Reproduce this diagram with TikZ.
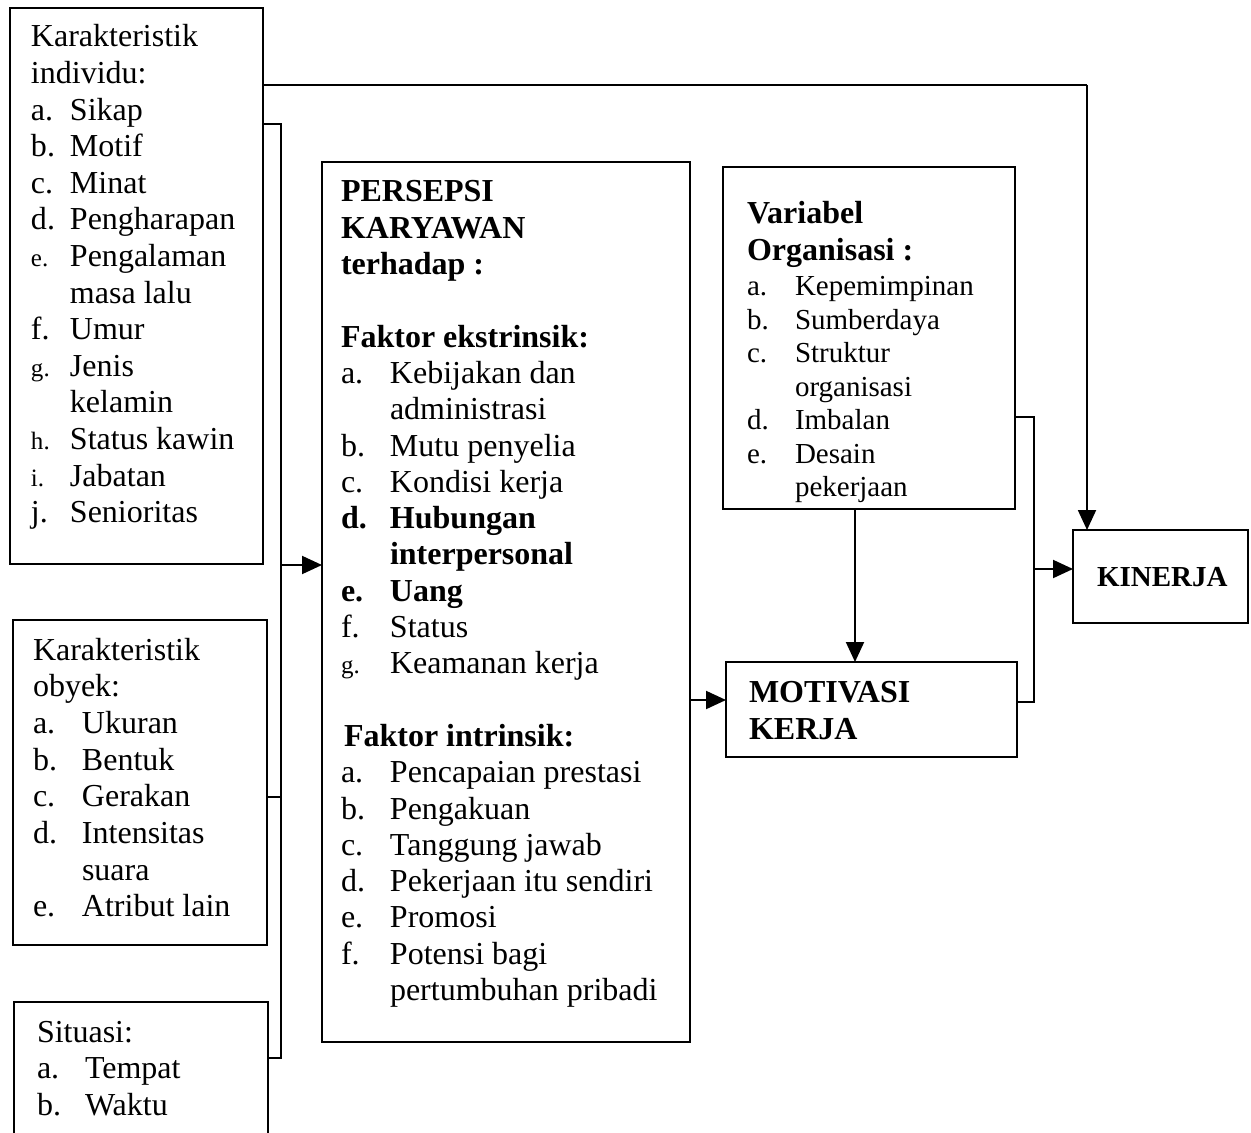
\documentclass[tikz,border=0pt]{standalone}
\usepackage{fontspec}
\setmainfont{Liberation Serif}
\usetikzlibrary{arrows.meta}
\newcommand{\hd}[1]{\multicolumn{2}{@{}l@{}}{#1}}
\newcommand{\sm}[1]{{\fontsize{12.5}{12.5}\selectfont #1}}
\begin{document}
\begin{tikzpicture}[x=0.5pt,y=-0.5pt,
  box/.style={draw, line width=1pt, rectangle, inner sep=0pt, outer sep=0pt, anchor=north west},
  txt/.style={anchor=base west, inner sep=0pt, outer sep=0pt},
  conn/.style={line width=1pt},
  arr/.style={line width=1pt, -{Triangle[length=10pt,width=9pt]}}]
\useasboundingbox (0,0) rectangle (1251,1133);
\clip (0,0) rectangle (1251,1133);
\fill[white] (0,0) rectangle (1251,1133);

% boxes
\node[box, minimum width=126.5pt, minimum height=278pt] (ind) at (10,8) {};
\node[box, minimum width=127pt, minimum height=162.5pt] (obj) at (13,620) {};
\node[box, minimum width=127pt, minimum height=79pt] (sit) at (14,1002) {};
\node[box, minimum width=184pt, minimum height=440pt] (per) at (322,162) {};
\node[box, minimum width=146pt, minimum height=171pt] (var) at (723,167) {};
\node[box, minimum width=145.5pt, minimum height=47.5pt] (mot) at (726,662) {};
\node[box, minimum width=87.5pt, minimum height=46.5pt] (kin) at (1073,530) {};

% texts
\node[txt] (indt) at (31,47) {\fontsize{16}{18.3}\selectfont
\begin{tabular}[t]{@{}p{19.5pt}@{}l@{}}
\hd{Karakteristik}\\
\hd{individu:}\\
a. & Sikap\\
b. & Motif\\
c. & Minat\\
d. & Pengharapan\\
\sm{e.} & Pengalaman\\
 & masa lalu\\
f. & Umur\\
\sm{g.} & Jenis\\
 & kelamin\\
\sm{h.} & Status kawin\\
\sm{i.} & Jabatan\\
j. & Senioritas
\end{tabular}};

\node[txt] (objt) at (33,660) {\fontsize{16}{18.35}\selectfont
\begin{tabular}[t]{@{}p{24.5pt}@{}l@{}}
\hd{Karakteristik}\\
\hd{obyek:}\\
a. & Ukuran\\
b. & Bentuk\\
c. & Gerakan\\
d. & Intensitas\\
 & suara\\
e. & Atribut lain
\end{tabular}};

\node[txt] (sitt) at (37,1042) {\fontsize{16}{18.3}\selectfont
\begin{tabular}[t]{@{}p{24pt}@{}l@{}}
\hd{Situasi:}\\
a. & Tempat\\
b. & Waktu
\end{tabular}};

\node[txt] (pert) at (341,202) {\fontsize{16}{18.15}\selectfont
\begin{tabular}[t]{@{}p{24.5pt}@{}l@{}}
\hd{\textbf{PERSEPSI}}\\
\hd{\textbf{KARYAWAN}}\\
\hd{\textbf{terhadap :}}\\
\hd{}\\
\hd{\textbf{Faktor ekstrinsik:}}\\
a. & Kebijakan dan\\
 & administrasi\\
b. & Mutu penyelia\\
c. & Kondisi kerja\\
\textbf{d.} & \textbf{Hubungan}\\
 & \textbf{interpersonal}\\
\textbf{e.} & \textbf{Uang}\\
f. & Status\\
\sm{g.} & Keamanan kerja\\
\hd{}\\
\hd{\hspace{1.5pt}\textbf{Faktor intrinsik:}}\\
a. & Pencapaian prestasi\\
b. & Pengakuan\\
c. & Tanggung jawab\\
d. & Pekerjaan itu sendiri\\
e. & Promosi\\
f. & Potensi bagi\\
 & pertumbuhan pribadi
\end{tabular}};

\node[txt] (varh) at (747,224) {\fontsize{16}{18.5}\selectfont\bfseries
\begin{tabular}[t]{@{}l@{}}
Variabel\\
Organisasi :
\end{tabular}};

\node[txt] (vari) at (747,296) {\fontsize{14.5}{16.75}\selectfont
\begin{tabular}[t]{@{}p{24pt}@{}l@{}}
a. & Kepemimpinan\\
b. & Sumberdaya\\
c. & Struktur\\
 & organisasi\\
d. & Imbalan\\
e. & Desain\\
 & pekerjaan
\end{tabular}};

\node[txt] (mott) at (749,702) {\fontsize{16}{18.5}\selectfont\bfseries
\begin{tabular}[t]{@{}l@{}}
MOTIVASI\\
KERJA
\end{tabular}};

\node[txt] (kint) at (1097,586) {\fontsize{14.5}{16}\selectfont\bfseries KINERJA};

% connectors
\coordinate (topR) at (1087,85);
\draw[conn] (ind.east |- topR) -- (topR);
\draw[arr] (topR) -- (kin.north -| topR);

\coordinate (brT) at (281,124);
\coordinate (brM) at (281,565);
\coordinate (brB) at (281,1058);
\draw[conn] (ind.east |- brT) -- (brT) -- (brB) -- (sit.east |- brB);
\draw[conn] (obj.east |- 0,797) -- (281,797);
\draw[arr] (brM) -- (per.west |- brM);

\coordinate (pm) at (700,700);
\draw[arr] (per.east |- pm) -- (mot.west |- pm);

\coordinate (vm) at (855,600);
\draw[arr] (var.south -| vm) -- (mot.north -| vm);

\coordinate (rT) at (1034,417);
\coordinate (rM) at (1034,569);
\coordinate (rB) at (1034,702);
\draw[conn] (var.east |- rT) -- (rT) -- (rB) -- (mot.east |- rB);
\draw[arr] (rM) -- (kin.west |- rM);
\end{tikzpicture}
\end{document}
